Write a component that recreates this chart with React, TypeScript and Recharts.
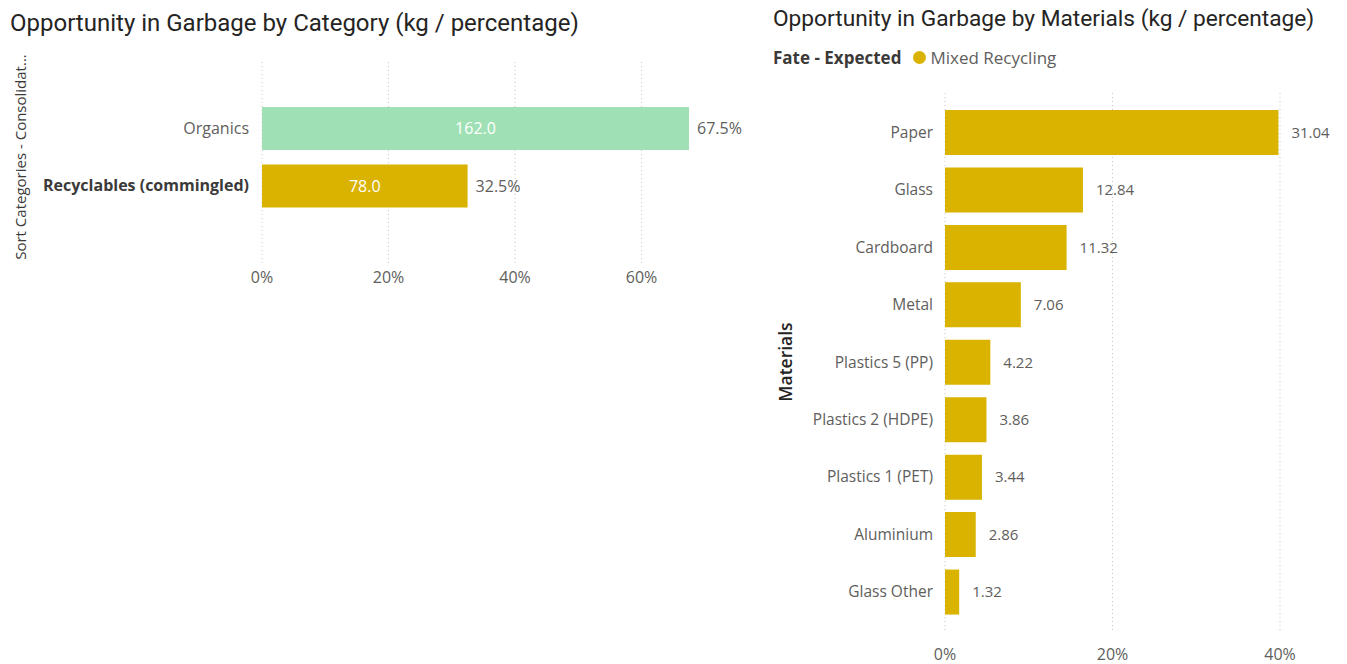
import React from "react";
import { BarChart, Bar, XAxis, YAxis, CartesianGrid, LabelList, Cell } from "recharts";

const categories = ["Organics", "Recyclables (commingled)"];
const categoryKg = [162.0, 78.0];
const categoryTicks = [0, 20, 40, 60];

const materials = [
  "Paper",
  "Glass",
  "Cardboard",
  "Metal",
  "Plastics 5 (PP)",
  "Plastics 2 (HDPE)",
  "Plastics 1 (PET)",
  "Aluminium",
  "Glass Other",
];
const materialKg = [31.04, 12.84, 11.32, 7.06, 4.22, 3.86, 3.44, 2.86, 1.32];
const materialTicks = [0, 20, 40];

const highlightedCategory = "Recyclables (commingled)";

const GREEN = "#9FE0B4";
const GOLD = "#D9B300";
const LABEL = "#605E5C";
const TITLE = "#252423";
const UI_FONT = "'Open Sans', 'Noto Sans', sans-serif";
const TITLE_FONT = "Roboto, 'Noto Sans', sans-serif";

const catTotal = categoryKg.reduce((a, b) => a + b, 0);
const catData = categories.map((name, i) => ({
  name,
  kg: categoryKg[i],
  pct: (categoryKg[i] / catTotal) * 100,
}));
const matTotal = materialKg.reduce((a, b) => a + b, 0);
const matData = materials.map((name, i) => ({
  name,
  kg: materialKg[i],
  pct: (materialKg[i] / matTotal) * 100,
}));

const CatTick = (props: any) => {
  const { x, y, payload } = props;
  const bold = payload.value === highlightedCategory;
  return (
    <text
      x={x}
      y={y}
      dy={5}
      textAnchor="end"
      fontFamily={UI_FONT}
      fontSize={16}
      fontWeight={bold ? 700 : 400}
      fill={bold ? "#3b3a39" : LABEL}
    >
      {payload.value}
    </text>
  );
};

const MatTick = (props: any) => {
  const { x, y, payload } = props;
  return (
    <text x={x} y={y} dy={5} textAnchor="end" fontFamily={UI_FONT} fontSize={15.5} fill={LABEL}>
      {payload.value}
    </text>
  );
};

export default function App() {
  return (
    <div style={{ position: "absolute", left: 0, top: 0, width: 1347, height: 664, background: "#fff", overflow: "hidden" }}>
      <div style={{ position: "absolute", left: 10, top: 8, fontFamily: TITLE_FONT, fontSize: 24, color: TITLE, whiteSpace: "nowrap", lineHeight: "30px" }}>
        Opportunity in Garbage by Category (kg / percentage)
      </div>
      <div
        style={{
          position: "absolute",
          left: 20,
          top: 157,
          transform: "translate(-50%, -50%) rotate(-90deg)",
          fontFamily: UI_FONT,
          fontSize: 15,
          color: "#3b3a39",
          whiteSpace: "nowrap",
        }}
      >
        Sort Categories - Consolidat...
      </div>
      <div style={{ position: "absolute", left: 0, top: 0 }}>
        <BarChart
          width={760}
          height={300}
          layout="vertical"
          data={catData}
          margin={{ top: 62, right: 71, bottom: 5, left: 12 }}
          barSize={43}
        >
          <CartesianGrid horizontal={false} vertical syncWithTicks strokeDasharray="1 3" stroke="#c8c8c8" />
          <XAxis
            type="number"
            dataKey="pct"
            domain={[0, "dataMax"]}
            ticks={categoryTicks}
            tickFormatter={(v: number) => `${v}%`}
            axisLine={false}
            tickLine={false}
            height={30}
            tickMargin={1}
            tick={{ fill: LABEL, fontSize: 16, fontFamily: UI_FONT }}
          />
          <YAxis
            type="category"
            dataKey="name"
            width={250}
            axisLine={false}
            tickLine={false}
            tickMargin={7}
            padding={{ top: 38, bottom: 50 }}
            tick={<CatTick />}
          />
          <Bar dataKey="pct" isAnimationActive={false}>
            {catData.map((d, i) => (
              <Cell key={d.name} fill={i === 0 ? GREEN : GOLD} />
            ))}
            <LabelList
              dataKey="kg"
              position="center"
              formatter={(v: any) => Number(v).toFixed(1)}
              fill="#ffffff"
              style={{ fontFamily: UI_FONT, fontSize: 16 }}
            />
            <LabelList
              dataKey="pct"
              position="right"
              offset={8}
              formatter={(v: any) => `${Number(v).toFixed(1)}%`}
              fill={LABEL}
              style={{ fontFamily: UI_FONT, fontSize: 16 }}
            />
          </Bar>
        </BarChart>
      </div>

      <div style={{ position: "absolute", left: 773, top: 4, fontFamily: TITLE_FONT, fontSize: 22.7, color: TITLE, whiteSpace: "nowrap", lineHeight: "30px" }}>
        Opportunity in Garbage by Materials (kg / percentage)
      </div>
      <div style={{ position: "absolute", left: 773, top: 46, fontFamily: UI_FONT, fontSize: 17, whiteSpace: "nowrap", display: "flex", alignItems: "center" }}>
        <span style={{ fontWeight: 700, color: "#3b3a39" }}>Fate - Expected</span>
        <span style={{ display: "inline-block", width: 13, height: 13, borderRadius: 7, background: GOLD, marginLeft: 12, marginRight: 4 }} />
        <span style={{ color: LABEL }}>Mixed Recycling</span>
      </div>
      <div
        style={{
          position: "absolute",
          left: 785,
          top: 362,
          transform: "translate(-50%, -50%) rotate(-90deg)",
          fontFamily: UI_FONT,
          fontSize: 17.5,
          fontWeight: 600,
          color: TITLE,
          whiteSpace: "nowrap",
        }}
      >
        Materials
      </div>
      <div style={{ position: "absolute", left: 760, top: 0 }}>
        <BarChart
          width={587}
          height={664}
          layout="vertical"
          data={matData}
          margin={{ top: 93, right: 67, bottom: 1, left: 15 }}
          barSize={45}
        >
          <CartesianGrid horizontal={false} vertical syncWithTicks strokeDasharray="1 3" stroke="#c8c8c8" />
          <XAxis
            type="number"
            dataKey="pct"
            domain={[0, 40]}
            ticks={materialTicks}
            tickFormatter={(v: number) => `${v}%`}
            axisLine={false}
            tickLine={false}
            height={30}
            tickMargin={10}
            tick={{ fill: LABEL, fontSize: 16, fontFamily: UI_FONT }}
          />
          <YAxis
            type="category"
            dataKey="name"
            width={170}
            axisLine={false}
            tickLine={false}
            tickMargin={6}
            padding={{ top: 11, bottom: 12 }}
            tick={<MatTick />}
          />
          <Bar dataKey="pct" fill={GOLD} isAnimationActive={false}>
            <LabelList
              dataKey="kg"
              position="right"
              offset={13}
              formatter={(v: any) => Number(v).toFixed(2)}
              fill={LABEL}
              style={{ fontFamily: UI_FONT, fontSize: 15 }}
            />
          </Bar>
        </BarChart>
      </div>
    </div>
  );
}
